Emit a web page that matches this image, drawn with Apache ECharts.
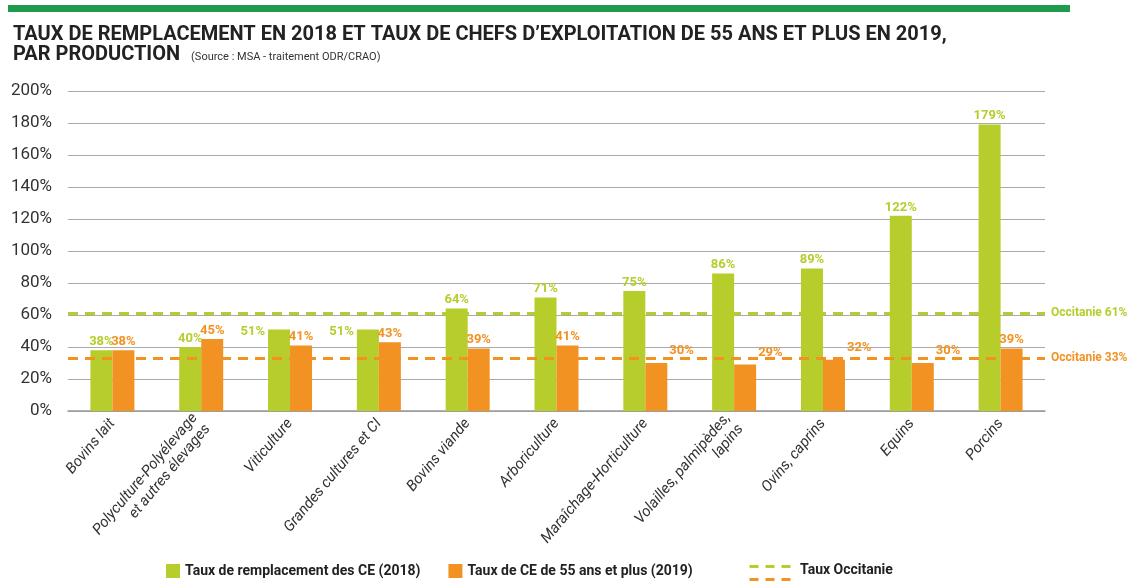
<!DOCTYPE html>
<html>
<head>
<meta charset="utf-8">
<script src="https://cdn.jsdelivr.net/npm/echarts@6/dist/echarts.min.js"></script>
<style>
  html, body { margin: 0; padding: 0; background: #fff; }
  #chart { width: 1144px; height: 582px; }
</style>
</head>
<body>
<div id="chart"></div>
<script>
var categories = ['Bovins lait', 'Polyculture-Polyélevage\net autres élevages', 'Viticulture', 'Grandes cultures et CI',
  'Bovins viande', 'Arboriculture', 'Maraîchage-Horticulture', 'Volailles, palmipèdes,\nlapins', 'Ovins, caprins', 'Equins', 'Porcins'];
var tauxRemplacement = [38, 40, 51, 51, 64, 71, 75, 86, 89, 122, 179];
var tauxCE55 = [38, 45, 41, 43, 39, 41, 30, 29, 32, 30, 39];
var occitanieRemplacement = 61;
var occitanieCE55 = 33;
var yTicks = { min: 0, max: 200, interval: 20 };

var GREEN = '#b7cd2c';
var ORANGE = '#f29222';
var FONT = 'Roboto, "Liberation Sans Narrow", sans-serif';

var myChart = echarts.init(document.getElementById('chart'));

// orange labels that would sit on the dashed line go to the right of the bar
var orangeData = tauxCE55.map(function(v) {
  if (v < occitanieCE55) {
    return { value: v, label: { position: ['100%', 0], offset: [2, -12], align: 'left', verticalAlign: 'middle' } };
  }
  return v;
});
// green labels nearly level with the orange one go to the left of the bar
var greenData = tauxRemplacement.map(function(v, i) {
  var d = v - tauxCE55[i];
  if (d > 0 && d < 15) {
    return { value: v, label: { position: [0, 0], offset: [-3, 2], align: 'right', verticalAlign: 'middle' } };
  }
  return v;
});

var option = {
  animation: false,
  title: {
    text: 'TAUX DE REMPLACEMENT EN 2018 ET TAUX DE CHEFS D\u2019EXPLOITATION DE 55 ANS ET PLUS EN 2019,\nPAR PRODUCTION {s|(Source : MSA - traitement ODR/CRAO)}',
    left: 8,
    top: 20,
    textStyle: {
      color: '#222',
      fontFamily: FONT,
      fontWeight: 'bold',
      fontSize: 20,
      lineHeight: 20,
      rich: {
        s: { fontSize: 11, fontWeight: 'normal', color: '#333', fontFamily: FONT, padding: [4, 0, 0, 6] }
      }
    }
  },
  graphic: [
    { type: 'rect', left: 8, top: 5, shape: { width: 1062, height: 7 }, style: { fill: '#1f9b4b' } },
    // third legend item: dashed pair
    { type: 'line', left: 747, top: 564, shape: { x1: 0, y1: 0, x2: 43, y2: 0 }, style: { stroke: GREEN, lineWidth: 3, lineDash: [9, 7] } },
    { type: 'line', left: 747, top: 577, shape: { x1: 0, y1: 0, x2: 43, y2: 0 }, style: { stroke: ORANGE, lineWidth: 3, lineDash: [9, 7] } },
    { type: 'text', left: 800, top: 563, style: { text: 'Taux Occitanie', fill: '#222', font: 'bold 14px ' + FONT } }
  ],
  legend: {
    left: 161,
    top: 559,
    itemWidth: 14,
    itemHeight: 14,
    itemGap: 28,
    icon: 'rect',
    textStyle: { color: '#222', fontFamily: FONT, fontWeight: 'bold', fontSize: 14 },
    data: ['Taux de remplacement des CE (2018)', 'Taux de CE de 55 ans et plus (2019)']
  },
  grid: { left: 68, right: 99, top: 91, bottom: 171 },
  xAxis: {
    type: 'category',
    data: categories,
    axisTick: { show: false },
    axisLine: { lineStyle: { color: '#999', width: 1.5 } },
    axisLabel: {
      rotate: 50,
      interval: 0,
      margin: 10,
      color: '#333',
      fontFamily: FONT,
      fontStyle: 'italic',
      fontSize: 15,
      lineHeight: 17,
      align: 'right'
    }
  },
  yAxis: {
    type: 'value',
    min: yTicks.min,
    max: yTicks.max,
    interval: yTicks.interval,
    axisLine: { show: false },
    axisTick: { show: false },
    splitLine: { lineStyle: { color: '#aaa', width: 1.2 } },
    axisLabel: {
      formatter: '{value}%',
      margin: 16,
      color: '#333',
      fontFamily: FONT,
      fontSize: 17
    }
  },
  series: [
    {
      name: 'Taux de remplacement des CE (2018)',
      type: 'bar',
      data: greenData,
      barWidth: 22,
      barGap: '0%',
      itemStyle: { color: GREEN },
      label: {
        show: true,
        position: 'top',
        distance: 2,
        formatter: '{c}%',
        color: GREEN,
        fontFamily: FONT,
        fontWeight: 'bold',
        fontSize: 13
      },
      markLine: {
        symbol: 'none',
        silent: true,
        lineStyle: { color: GREEN, type: [10, 7], width: 3 },
        label: {
          position: 'end',
          formatter: 'Occitanie {c}%',
          color: GREEN,
          fontFamily: FONT,
          fontWeight: 'bold',
          fontSize: 12,
          distance: 6
        },
        data: [{ yAxis: occitanieRemplacement }]
      },
      z: 2
    },
    {
      name: 'Taux de CE de 55 ans et plus (2019)',
      type: 'bar',
      data: orangeData,
      barWidth: 22,
      itemStyle: { color: ORANGE },
      label: {
        show: true,
        position: 'top',
        distance: 2,
        formatter: '{c}%',
        color: ORANGE,
        fontFamily: FONT,
        fontWeight: 'bold',
        fontSize: 13
      },
      markLine: {
        symbol: 'none',
        silent: true,
        lineStyle: { color: ORANGE, type: [10, 7], width: 3 },
        label: {
          position: 'end',
          formatter: 'Occitanie {c}%',
          color: ORANGE,
          fontFamily: FONT,
          fontWeight: 'bold',
          fontSize: 12,
          distance: 6
        },
        data: [{ yAxis: occitanieCE55 }]
      },
      z: 2
    }
  ]
};
myChart.setOption(option);

window.addEventListener('resize', function() {
  myChart.resize();
});
</script>
</body>
</html>
